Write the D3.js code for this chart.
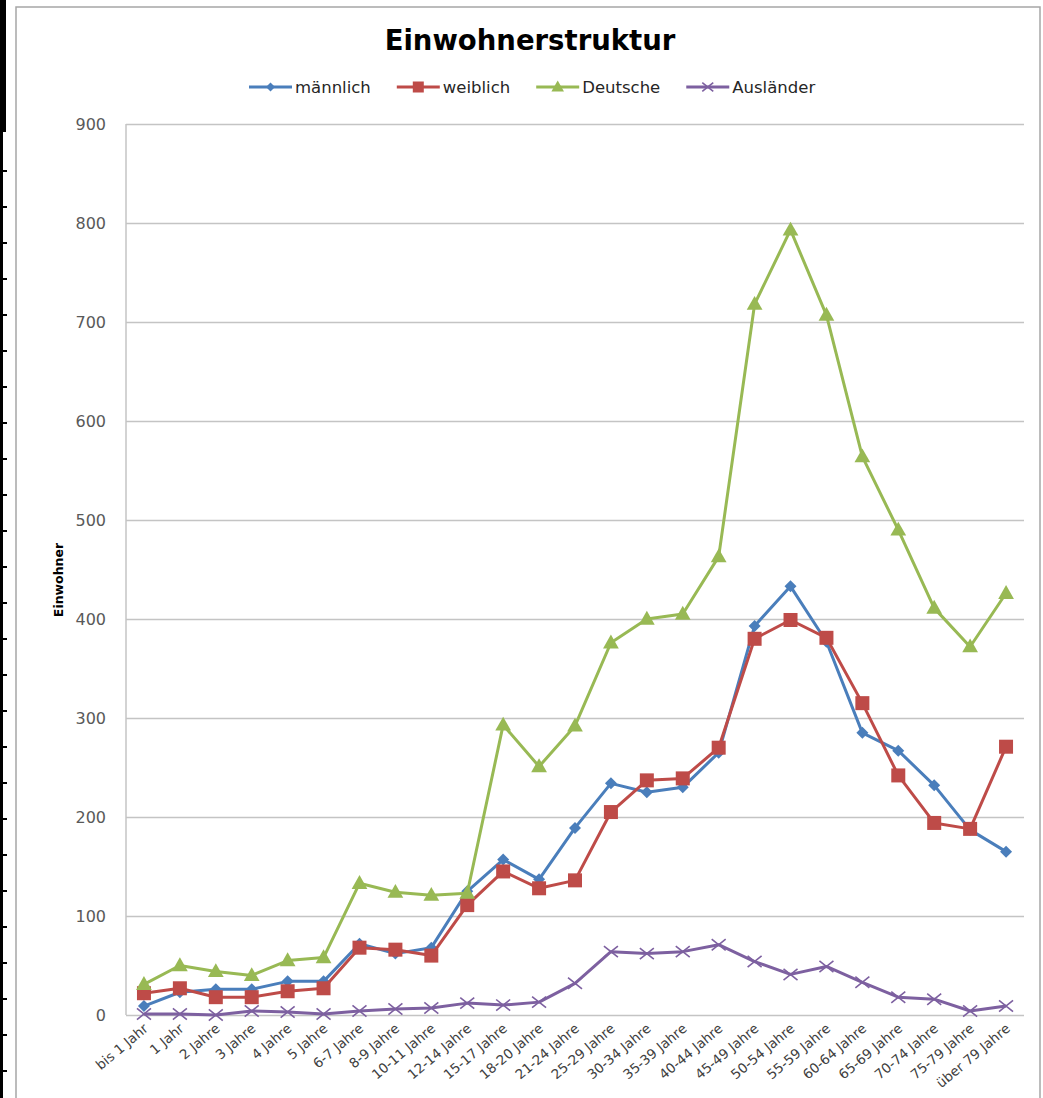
<!DOCTYPE html>
<html>
<head>
<meta charset="utf-8">
<script src="https://cdn.jsdelivr.net/npm/d3@7"></script>
<style>
  body { margin: 0; background: #fff; }
  svg { display: block; font-family: "DejaVu Sans", sans-serif; }
</style>
</head>
<body>
<svg id="chart" width="1043" height="1098"></svg>
<script>
// age groups on the x axis
var categories = ["bis 1 Jahr", "1 Jahr", "2 Jahre", "3 Jahre", "4 Jahre", "5 Jahre",
  "6-7 Jahre", "8-9 Jahre", "10-11 Jahre", "12-14 Jahre", "15-17 Jahre", "18-20 Jahre",
  "21-24 Jahre", "25-29 Jahre", "30-34 Jahre", "35-39 Jahre", "40-44 Jahre", "45-49 Jahre",
  "50-54 Jahre", "55-59 Jahre", "60-64 Jahre", "65-69 Jahre", "70-74 Jahre", "75-79 Jahre",
  "über 79 Jahre"];

var maennlich = [9, 23, 26, 26, 34, 34, 72, 62, 68, 125, 157, 137, 189, 234, 225, 230, 265, 393, 433, 377, 285, 267, 232, 187, 165];
var weiblich  = [22, 27, 18, 18, 24, 27, 68, 66, 60, 111, 145, 128, 136, 205, 237, 239, 270, 380, 399, 381, 315, 242, 194, 188, 271];
var deutsche  = [31, 50, 44, 40, 55, 58, 133, 124, 121, 123, 293, 251, 292, 376, 400, 405, 463, 718, 793, 707, 564, 490, 411, 372, 426];
var auslaender = [1, 1, 0, 4, 3, 1, 4, 6, 7, 12, 10, 13, 32, 64, 62, 64, 71, 54, 41, 49, 33, 18, 16, 4, 9];

var yTicks = [0, 100, 200, 300, 400, 500, 600, 700, 800, 900];

var series = [
  {name: "männlich",  values: maennlich,  color: "#4a7ebb", marker: "diamond"},
  {name: "weiblich",  values: weiblich,   color: "#be4b48", marker: "square"},
  {name: "Deutsche",  values: deutsche,   color: "#98b954", marker: "triangle"},
  {name: "Ausländer", values: auslaender, color: "#7d60a0", marker: "cross"}
];

var svg = d3.select("#chart");
var plot = {left: 126, right: 1024, top: 124, bottom: 1015};

// scan artefact at the left page edge
svg.append("rect").attr("x", 0).attr("y", 0).attr("width", 6).attr("height", 132).attr("fill", "#000");
svg.append("line").attr("x1", 1.5).attr("x2", 1.5).attr("y1", 0).attr("y2", 1098)
  .attr("stroke", "#000").attr("stroke-width", 3);
svg.selectAll(".edgeTick").data(d3.range(26)).enter().append("line")
  .attr("x1", 0).attr("x2", 7)
  .attr("y1", function(i) { return 171 + i * 36; })
  .attr("y2", function(i) { return 171 + i * 36; })
  .attr("stroke", "#000").attr("stroke-width", 2);

// chart area frame
svg.append("path").attr("d", "M16,1098 L16,7 L1040,7 L1040,1098")
  .attr("fill", "none").attr("stroke", "#a6a6a6").attr("stroke-width", 1.5);

var x = d3.scaleBand().domain(categories).range([plot.left, plot.right]);
var y = d3.scaleLinear().domain([0, 900]).range([plot.bottom, plot.top]);
var cx = function(i) { return x(categories[i]) + x.bandwidth() / 2; };

// gridlines + y labels
var yAxis = svg.append("g")
  .attr("transform", "translate(" + plot.left + ",0)")
  .call(d3.axisLeft(y).tickValues(yTicks).tickSize(-(plot.right - plot.left)).tickPadding(20));
yAxis.select(".domain").remove();
yAxis.selectAll(".tick line").attr("stroke", "#c4c4c4").attr("stroke-width", 1.5);
yAxis.selectAll(".tick text").attr("fill", "#595959").style("font-size", "16px")
  .style("font-family", "DejaVu Sans");

svg.append("line").attr("x1", plot.left).attr("x2", plot.left)
  .attr("y1", plot.top).attr("y2", plot.bottom)
  .attr("stroke", "#c4c4c4").attr("stroke-width", 1.5);

// x labels, slanted
svg.append("g").selectAll("text").data(categories).enter().append("text")
  .attr("transform", function(d, i) { return "translate(" + (cx(i) + 5) + ",1030) rotate(-40)"; })
  .attr("text-anchor", "end")
  .attr("fill", "#404040")
  .style("font-size", "13.5px")
  .text(function(d) { return d; });

svg.append("text")
  .attr("transform", "translate(63,580) rotate(-90)")
  .attr("text-anchor", "middle")
  .style("font-size", "12.5px").style("font-weight", "bold")
  .attr("fill", "#000")
  .text("Einwohner");

svg.append("text")
  .attr("x", 530).attr("y", 50)
  .attr("text-anchor", "middle")
  .style("font-size", "27.5px").style("font-weight", "bold")
  .attr("fill", "#000")
  .text("Einwohnerstruktur");

function drawMarker(g, type, color, s) {
  if (type === "diamond") {
    g.append("path").attr("d", "M0," + (-s) + " L" + s + ",0 L0," + s + " L" + (-s) + ",0 Z").attr("fill", color);
  } else if (type === "square") {
    g.append("rect").attr("x", -s).attr("y", -s).attr("width", 2 * s).attr("height", 2 * s).attr("fill", color);
  } else if (type === "triangle") {
    g.append("path").attr("d", "M0," + (-s * 1.1) + " L" + (s * 1.05) + "," + (s * 0.75) + " L" + (-s * 1.05) + "," + (s * 0.75) + " Z").attr("fill", color);
  } else {
    g.append("path").attr("d", "M" + (-s) + "," + (-s * 0.8) + " L" + s + "," + (s * 0.8) + " M" + (-s) + "," + (s * 0.8) + " L" + s + "," + (-s * 0.8))
      .attr("stroke", color).attr("stroke-width", 1.6).attr("fill", "none");
  }
}

var markerSize = {diamond: 6, square: 7, triangle: 7.5, cross: 7};
var line = d3.line().x(function(d, i) { return cx(i); }).y(function(d) { return y(d); });

series.forEach(function(s) {
  svg.append("path").datum(s.values)
    .attr("d", line)
    .attr("fill", "none").attr("stroke", s.color)
    .attr("stroke-width", 3).attr("stroke-linejoin", "round");
  s.values.forEach(function(v, i) {
    var g = svg.append("g").attr("transform", "translate(" + cx(i) + "," + y(v) + ")");
    drawMarker(g, s.marker, s.color, markerSize[s.marker]);
  });
});

// legend
var lx = 249;
series.forEach(function(s) {
  var g = svg.append("g").attr("transform", "translate(" + lx + ",87)");
  g.append("line").attr("x1", 0).attr("x2", 43).attr("stroke", s.color).attr("stroke-width", 3);
  var lg = g.append("g").attr("transform", "translate(21.5,0)");
  drawMarker(lg, s.marker, s.color, markerSize[s.marker] - 1.5);
  var t = g.append("text").attr("x", 46).attr("y", 6)
    .attr("fill", "#262626").style("font-size", "16.5px")
    .text(s.name);
  lx += 46 + t.node().getComputedTextLength() + 26;
});
</script>
</body>
</html>
